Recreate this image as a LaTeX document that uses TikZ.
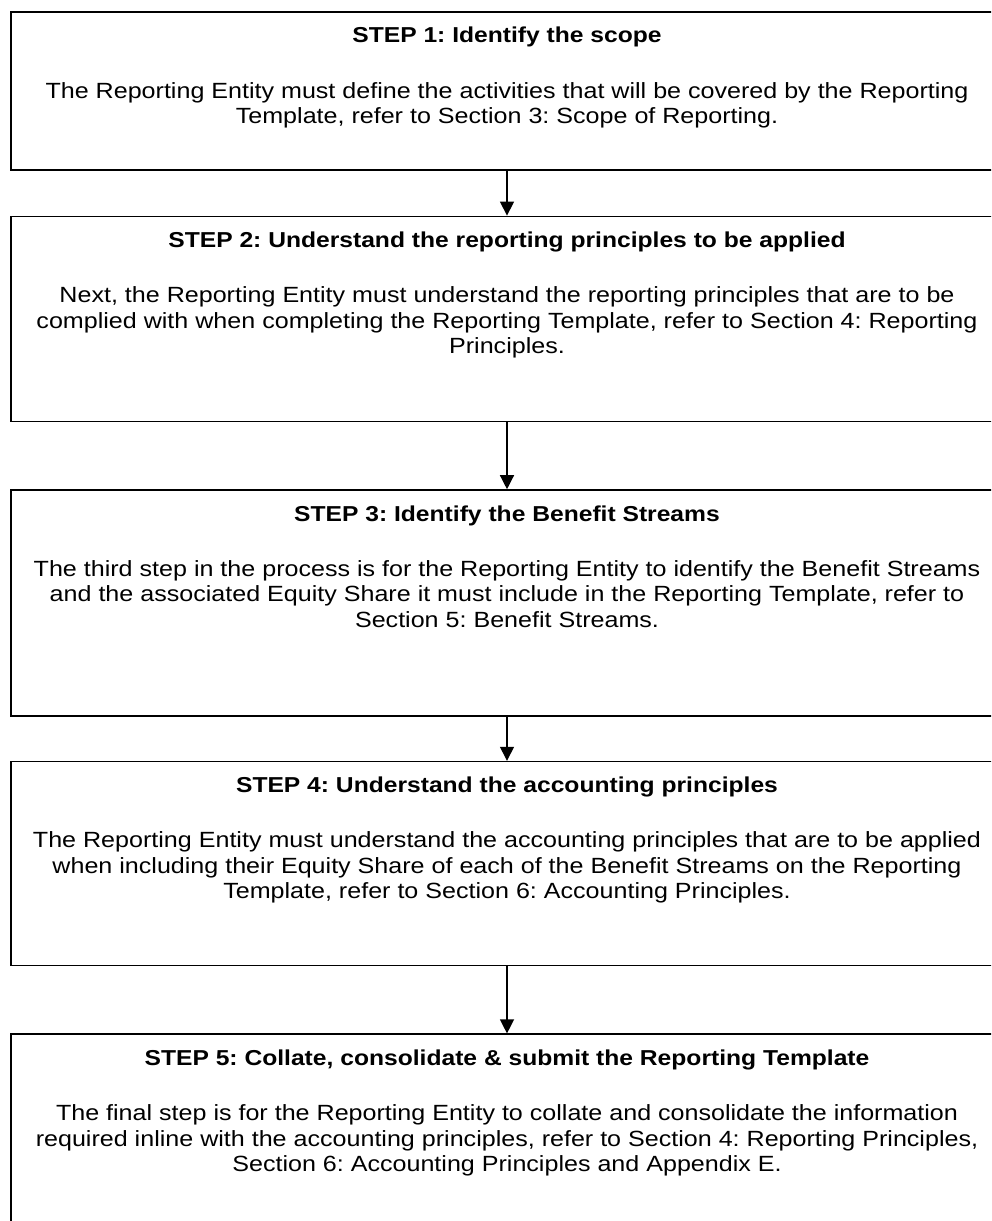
\documentclass[tikz,border=0pt]{standalone}
\usepackage{fontspec}
\setmainfont[FakeStretch=1.14]{Liberation Sans}
\usetikzlibrary{arrows.meta,positioning}
\tikzstyle{stepbox}=[draw, line width=1.6pt, minimum width=992pt, inner sep=0pt, anchor=north]
\tikzstyle{head}=[font=\fontsize{21.6}{25}\selectfont\bfseries\frenchspacing, inner sep=0pt, anchor=north]
\tikzstyle{body}=[font=\fontsize{22}{25.5}\selectfont\frenchspacing, align=center, inner sep=0pt, anchor=north]
\tikzstyle{flow}=[->, line width=1.3pt]

\begin{document}
\begin{tikzpicture}[x=1pt,y=1pt,>={Triangle[length=14pt,width=14pt]}]
		    \path[clip] (0,0) rectangle (991,-1221);
		    \node [stepbox, minimum height=158pt] (s1) at (507,-11) {};
		    \node [stepbox, minimum height=205pt, below=45pt of s1] (s2) {};
		    \node [stepbox, minimum height=226pt, below=67pt of s2] (s3) {};
		    \node [stepbox, minimum height=204pt, below=44pt of s3] (s4) {};
		    \node [stepbox, minimum height=240pt, below=67pt of s4] (s5) {};
		    \node [head, below=16pt of s1.north] (h1) {STEP 1: Identify the scope};
		    \node [body, below=71pt of s1.north] (b1) {The Reporting Entity must define the activities that will be covered by the Reporting\\Template, refer to Section 3: Scope of Reporting.};
		    \node [head, below=16pt of s2.north] (h2) {STEP 2: Understand the reporting principles to be applied};
		    \node [body, below=71pt of s2.north] (b2) {Next, the Reporting Entity must understand the reporting principles that are to be\\complied with when completing the Reporting Template, refer to Section 4: Reporting\\Principles.};
		    \node [head, below=16pt of s3.north] (h3) {STEP 3: Identify the Benefit Streams};
		    \node [body, below=71pt of s3.north] (b3) {The third step in the process is for the Reporting Entity to identify the Benefit Streams\\and the associated Equity Share it must include in the Reporting Template, refer to\\Section 5: Benefit Streams.};
		    \node [head, below=16pt of s4.north] (h4) {STEP 4: Understand the accounting principles};
		    \node [body, below=71pt of s4.north] (b4) {The Reporting Entity must understand the accounting principles that are to be applied\\when including their Equity Share of each of the Benefit Streams on the Reporting\\Template, refer to Section 6: Accounting Principles.};
		    \node [head, below=16pt of s5.north] (h5) {STEP 5: Collate, consolidate \& submit the Reporting Template};
		    \node [body, below=71pt of s5.north] (b5) {The final step is for the Reporting Entity to collate and consolidate the information\\required inline with the accounting principles, refer to Section 4: Reporting Principles,\\Section 6: Accounting Principles and Appendix E.};
		    \draw [flow] (s1) -- (s2);
		    \draw [flow] (s2) -- (s3);
		    \draw [flow] (s3) -- (s4);
		    \draw [flow] (s4) -- (s5);
\end{tikzpicture}
\end{document}
